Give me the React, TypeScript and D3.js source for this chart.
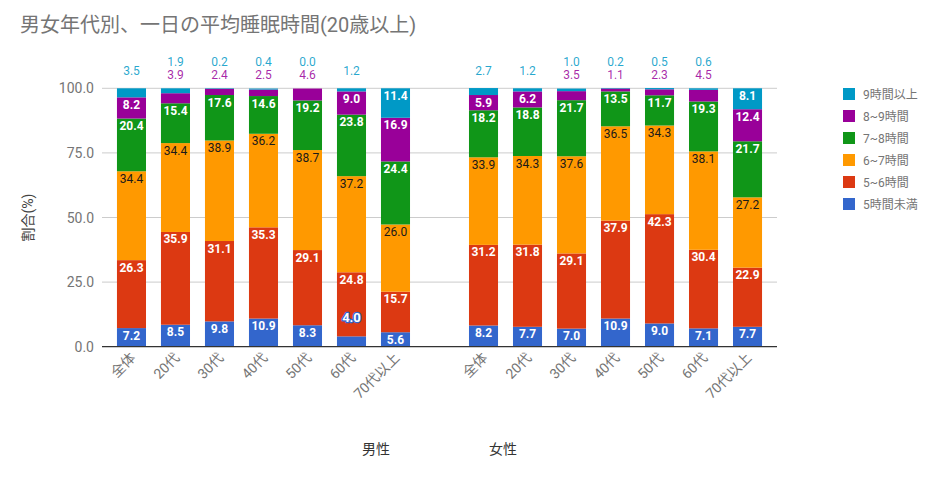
import React from 'react';
import * as d3 from 'd3';

const categories = ['全体', '20代', '30代', '40代', '50代', '60代', '70代以上'];
const groups = ['男性', '女性'];
const seriesNames = ['5時間未満', '5~6時間', '6~7時間', '7~8時間', '8~9時間', '9時間以上'];
const seriesColors = ['#3366CC', '#DC3912', '#FF9900', '#109618', '#990099', '#0099C6'];

// 男性
const maleLt5 = [7.2, 8.5, 9.8, 10.9, 8.3, 4.0, 5.6];
const male5to6 = [26.3, 35.9, 31.1, 35.3, 29.1, 24.8, 15.7];
const male6to7 = [34.4, 34.4, 38.9, 36.2, 38.7, 37.2, 26.0];
const male7to8 = [20.4, 15.4, 17.6, 14.6, 19.2, 23.8, 24.4];
const male8to9 = [8.2, 3.9, 2.4, 2.5, 4.6, 9.0, 16.9];
const male9plus = [3.5, 1.9, 0.2, 0.4, 0.0, 1.2, 11.4];

// 女性
const femaleLt5 = [8.2, 7.7, 7.0, 10.9, 9.0, 7.1, 7.7];
const female5to6 = [31.2, 31.8, 29.1, 37.9, 42.3, 30.4, 22.9];
const female6to7 = [33.9, 34.3, 37.6, 36.5, 34.3, 38.1, 27.2];
const female7to8 = [18.2, 18.8, 21.7, 13.5, 11.7, 19.3, 21.7];
const female8to9 = [5.9, 6.2, 3.5, 1.1, 2.3, 4.5, 12.4];
const female9plus = [2.7, 1.2, 1.0, 0.2, 0.5, 0.6, 8.1];

const yTicks = [0, 25, 50, 75, 100];

const W = 927;
const H = 477;
const FONT = "Roboto, 'Noto Sans CJK JP', sans-serif";

type Row = { key: string; label: string; values: number[] };

const maleSeries = [maleLt5, male5to6, male6to7, male7to8, male8to9, male9plus];
const femaleSeries = [femaleLt5, female5to6, female6to7, female7to8, female8to9, female9plus];

const rows: Row[] = [
  ...categories.map((c, i) => ({ key: 'M' + i, label: c, values: maleSeries.map((s) => s[i]) })),
  ...categories.map((c, i) => ({ key: 'F' + i, label: c, values: femaleSeries.map((s) => s[i]) })),
];

const domain = [...rows.slice(0, 7).map((r) => r.key), 'gap', ...rows.slice(7).map((r) => r.key)];

export default function App() {
  const plotLeft = 102;
  const plotRight = 777;
  const plotTop = 88.3;
  const plotBottom = 346.7;

  const x = d3.scaleBand<string>().domain(domain).range([plotLeft, plotRight]).padding(0.34);
  const y = d3.scaleLinear().domain([0, 100]).range([plotBottom, plotTop]);
  const fmt = d3.format('.1f');

  const stack = d3
    .stack<Row, number>()
    .keys(d3.range(6))
    .value((d, k) => d.values[k]);
  const stacked = stack(rows);

  const bw = x.bandwidth();

  return (
    <svg
      width={W}
      height={H}
      style={{ position: 'absolute', left: 0, top: 0, display: 'block', background: '#fff' }}
      fontFamily={FONT}
    >
      <text x={20} y={32} fontSize={20} fill="#757575">
        男女年代別、一日の平均睡眠時間(20歳以上)
      </text>

      {/* gridlines */}
      {yTicks.map((t) => (
        <g key={t}>
          {t !== 0 && (
            <line x1={plotLeft} x2={plotRight} y1={y(t)} y2={y(t)} stroke="#cccccc" strokeWidth={1} />
          )}
          <text x={94} y={y(t) + 5} textAnchor="end" fontSize={14} fill="#757575">
            {fmt(t)}
          </text>
        </g>
      ))}

      {/* bars */}
      {stacked.map((layer, si) => (
        <g key={si} fill={seriesColors[si]}>
          {layer.map((d) => (
            <rect
              key={d.data.key}
              x={x(d.data.key)}
              y={y(d[1])}
              width={bw}
              height={Math.max(0, y(d[0]) - y(d[1]))}
            />
          ))}
        </g>
      ))}

      {/* baseline */}
      <line x1={plotLeft} x2={plotRight} y1={y(0)} y2={y(0)} stroke="#333333" strokeWidth={1.2} />

      {/* value labels */}
      {stacked.map((layer, si) =>
        layer.map((d) => {
          const v = d.data.values[si];
          const cx = (x(d.data.key) as number) + bw / 2;
          const top = y(d[1]);
          if (v >= 5) {
            const isOrange = si === 2;
            return (
              <text
                key={si + d.data.key}
                x={cx}
                y={top + 11.5}
                textAnchor="middle"
                fontSize={12}
                fontWeight={isOrange ? 'normal' : 'bold'}
                fill={isOrange ? '#1a1a1a' : '#ffffff'}
              >
                {fmt(v)}
              </text>
            );
          }
          if (si >= 4) {
            const vals = d.data.values;
            const both = vals[4] < 5 && vals[5] < 5;
            let by: number;
            if (si === 5) by = both ? 65.5 : 74.5;
            else by = both ? 78.5 : 74.5;
            return (
              <text
                key={si + d.data.key}
                x={cx}
                y={by}
                textAnchor="middle"
                fontSize={12}
                fill={seriesColors[si]}
                fillOpacity={0.85}
              >
                {fmt(v)}
              </text>
            );
          }
          return (
            <text
              key={si + d.data.key}
              x={cx}
              y={top - 14}
              textAnchor="middle"
              fontSize={13}
              fontWeight="bold"
              fill="#ffffff"
              stroke={seriesColors[si]}
              strokeWidth={2.5}
              paintOrder="stroke"
              strokeLinejoin="round"
            >
              {fmt(v)}
            </text>
          );
        })
      )}

      {/* x labels */}
      {rows.map((r) => {
        const cx = (x(r.key) as number) + bw / 2;
        return (
          <text
            key={r.key}
            transform={`translate(${cx + 5},${plotBottom + 12}) rotate(-45)`}
            textAnchor="end"
            fontSize={14}
            fill="#757575"
          >
            {r.label}
          </text>
        );
      })}

      {/* group labels */}
      <text x={376} y={454} textAnchor="middle" fontSize={14} fill="#333333">
        {groups[0]}
      </text>
      <text x={503} y={454} textAnchor="middle" fontSize={14} fill="#333333">
        {groups[1]}
      </text>

      {/* y axis title */}
      <text
        transform={`translate(33,${(plotTop + plotBottom) / 2}) rotate(-90)`}
        textAnchor="middle"
        fontSize={14}
        fill="#444444"
      >
        割合(%)
      </text>

      {/* legend */}
      {d3.range(6).map((i) => {
        const si = 5 - i;
        const ly = 94 + i * 22;
        return (
          <g key={si}>
            <rect x={843} y={ly - 6} width={12} height={12} fill={seriesColors[si]} />
            <text x={863} y={ly + 4.5} fontSize={12} fill="#757575">
              {seriesNames[si]}
            </text>
          </g>
        );
      })}
    </svg>
  );
}
